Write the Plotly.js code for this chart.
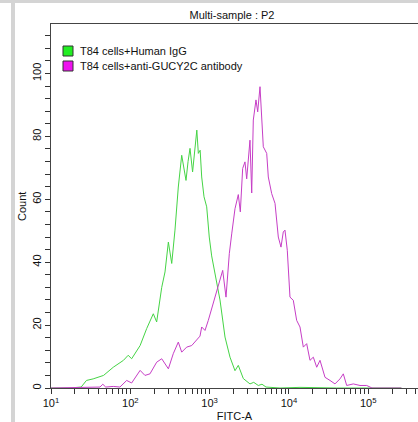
<!DOCTYPE html>
<html>
<head>
<meta charset="utf-8">
<script src="https://cdn.plot.ly/plotly-3.0.1.min.js"></script>
<style>
html,body{margin:0;padding:0;background:#fff;overflow:hidden;}
#chart{position:absolute;left:0;top:0;width:418px;height:422px;}
.bar-top{position:absolute;left:0;top:0;width:418px;height:3px;background:#d4d4d4;z-index:5;}
.bar-left{position:absolute;left:11px;top:0;width:4px;height:422px;background:#d4d4d4;z-index:5;}
</style>
</head>
<body>
<div id="chart"></div>
<div class="bar-top"></div>
<div class="bar-left"></div>
<script>
// FITC-A intensity (x) and event count (y) for each histogram
const iggFITC = [10, 17, 24, 28, 34, 46, 61, 82, 94, 104, 133, 161, 195, 215, 249, 274, 302, 333, 366, 403, 445, 475, 504, 535, 566, 610, 655, 690, 721, 760, 795, 850, 919, 990, 1062, 1170, 1260, 1352, 1564, 1808, 2090, 2302, 2662, 3229, 3600, 4111, 4581, 5143, 7726, 13800, 40000, 90000, 170000, 262143];
const iggCount = [0, 0, 0.3, 2.4, 2.9, 4.0, 6.6, 8.8, 10.4, 9.3, 13.5, 18.9, 23.6, 21, 32, 36.9, 46.4, 39.6, 50.2, 63.9, 74, 69.3, 66, 72, 76.2, 68.7, 76.7, 82, 74.6, 75.6, 67.1, 60.8, 57.6, 48, 42, 36.4, 32, 28, 16.2, 9.8, 5.5, 7.2, 3.0, 1.3, 1.8, 0.8, 1.2, 0.3, 0, 0.2, 0, 0, 0, 0];

const antiFITC = [10, 41.5, 45, 49, 61, 74, 90, 104, 133, 153, 177, 215, 249, 302, 348, 403, 445, 514, 595, 687, 757, 795, 875, 963, 1114, 1288, 1463, 1610, 1772, 1900, 2090, 2302, 2440, 2612, 2793, 2936, 3229, 3396, 3557, 3845, 4040, 4321, 4540, 4757, 5250, 5500, 6067, 6683, 7352, 7947, 8493, 8924, 9544, 10320, 11360, 12530, 13800, 15200, 16760, 18450, 20320, 22420, 24680, 28530, 32990, 38130, 44060, 48530, 53560, 64900, 78820, 95700, 111700, 262143];
const antiCount = [0, 0.3, 1.2, 0.3, 0.5, 0.3, 2.4, 1.6, 5.6, 4, 4.5, 8.2, 9.3, 6.1, 10.9, 14.6, 11.4, 13, 13.5, 15.1, 16.5, 19.4, 18.3, 21.5, 26.8, 32.5, 37.4, 28.9, 42.7, 49, 57, 61.5, 56, 69.8, 71.9, 66.5, 78.8, 62, 85.2, 91.6, 87.8, 95.8, 86.2, 76.7, 74.6, 67.1, 61.8, 58.7, 48, 44.8, 49.6, 50.2, 43.8, 28.9, 27.9, 21.5, 19.4, 13, 14.1, 8.8, 9.8, 6.6, 8.8, 3.4, 2.4, 1.3, 2.9, 4.5, 0.8, 1.3, 0.8, 0.8, 0, 0];

const seriesNames = ['T84 cells+Human IgG', 'T84 cells+anti-GUCY2C antibody'];
const xDecades = [10, 100, 1000, 10000, 100000];
const xTickLabels = ['10<sup>1</sup>', '10<sup>2</sup>', '10<sup>3</sup>', '10<sup>4</sup>', '10<sup>5</sup>'];
const yTickVals = [0, 20, 40, 60, 80, 100];
const yTickLabels = ['0', '20', '40', '60', '80', '100'];

const FONT = 'Liberation Sans, Arial, sans-serif';

// minor x ticks: digits 2..9 of each decade
const xMinorVals = [];
xDecades.forEach(d => { for (let k = 2; k <= 9; k++) xMinorVals.push(d * k); });

const traces = [
  {x: iggFITC, y: iggCount, type: 'scatter', mode: 'lines', name: seriesNames[0],
   line: {color: '#45d445', width: 1}, showlegend: false, hoverinfo: 'skip'},
  {x: antiFITC, y: antiCount, type: 'scatter', mode: 'lines', name: seriesNames[1],
   line: {color: '#c63ec6', width: 1}, showlegend: false, hoverinfo: 'skip'}
];

const W = 418, H = 422, L = 51, T = 24, B = 34;
const plotW = W - L, plotH = H - T - B;
const px = v => (v - L) / plotW;
const py = v => (H - B - v) / plotH;

const legendColors = ['#22ee22', '#ee11ee'];
const shapes = [], annotations = [];
[[46, 56], [61, 71]].forEach((r, i) => {
  shapes.push({type: 'rect', xref: 'paper', yref: 'paper',
    x0: px(63), x1: px(73), y0: py(r[1]), y1: py(r[0]),
    fillcolor: legendColors[i], line: {color: '#333', width: 1}});
  annotations.push({xref: 'paper', yref: 'paper', x: px(78), y: py((r[0] + r[1]) / 2),
    xanchor: 'left', yanchor: 'middle', showarrow: false, text: seriesNames[i],
    font: {family: FONT, size: 11, color: '#111'}});
});
// y-axis title
annotations.push({xref: 'paper', yref: 'paper', x: px(22), y: py(207),
  xanchor: 'center', yanchor: 'middle', showarrow: false, text: 'Count', textangle: -90,
  font: {family: FONT, size: 11, color: '#111'}});

const layout = {
  width: W, height: H,
  margin: {l: L, r: 0, t: T, b: B, pad: 0},
  paper_bgcolor: '#fff', plot_bgcolor: '#fff',
  showlegend: false,
  font: {family: FONT, size: 11, color: '#111'},
  title: {text: 'Multi-sample : P2', x: 232 / W, xanchor: 'center', y: 1 - 15 / H, yanchor: 'middle',
          font: {family: FONT, size: 11, color: '#111'}},
  xaxis: {
    type: 'log', range: [1, 1 + plotW / 79.3], autorange: false,
    tickmode: 'array', tickvals: xDecades, ticktext: xTickLabels,
    ticks: 'outside', ticklen: 5, tickcolor: '#333', tickwidth: 1,
    minor: {tickmode: 'array', tickvals: xMinorVals, ticks: 'outside', ticklen: 5, tickcolor: '#333', tickwidth: 1, showgrid: false},
    showgrid: false, zeroline: false,
    showline: true, linecolor: '#444', linewidth: 1, mirror: true,
    tickfont: {family: FONT, size: 11, color: '#111'},
    title: {text: 'FITC-A', standoff: 7, font: {family: FONT, size: 11, color: '#111'}}
  },
  yaxis: {
    range: [0, plotH / 3.145], autorange: false,
    tickmode: 'array', tickvals: yTickVals, ticktext: yTickLabels,
    ticks: 'outside', ticklen: 5, tickcolor: '#333', tickwidth: 1, tickangle: -90,
    minor: {dtick: 4, ticks: 'outside', ticklen: 5, tickcolor: '#333', showgrid: false},
    showgrid: false, zeroline: false,
    showline: true, linecolor: '#444', linewidth: 1,
    tickfont: {family: FONT, size: 11, color: '#111'}
  },
  shapes: shapes,
  annotations: annotations
};

Plotly.newPlot('chart', traces, layout, {displayModeBar: false, staticPlot: true});
</script>
</body>
</html>
